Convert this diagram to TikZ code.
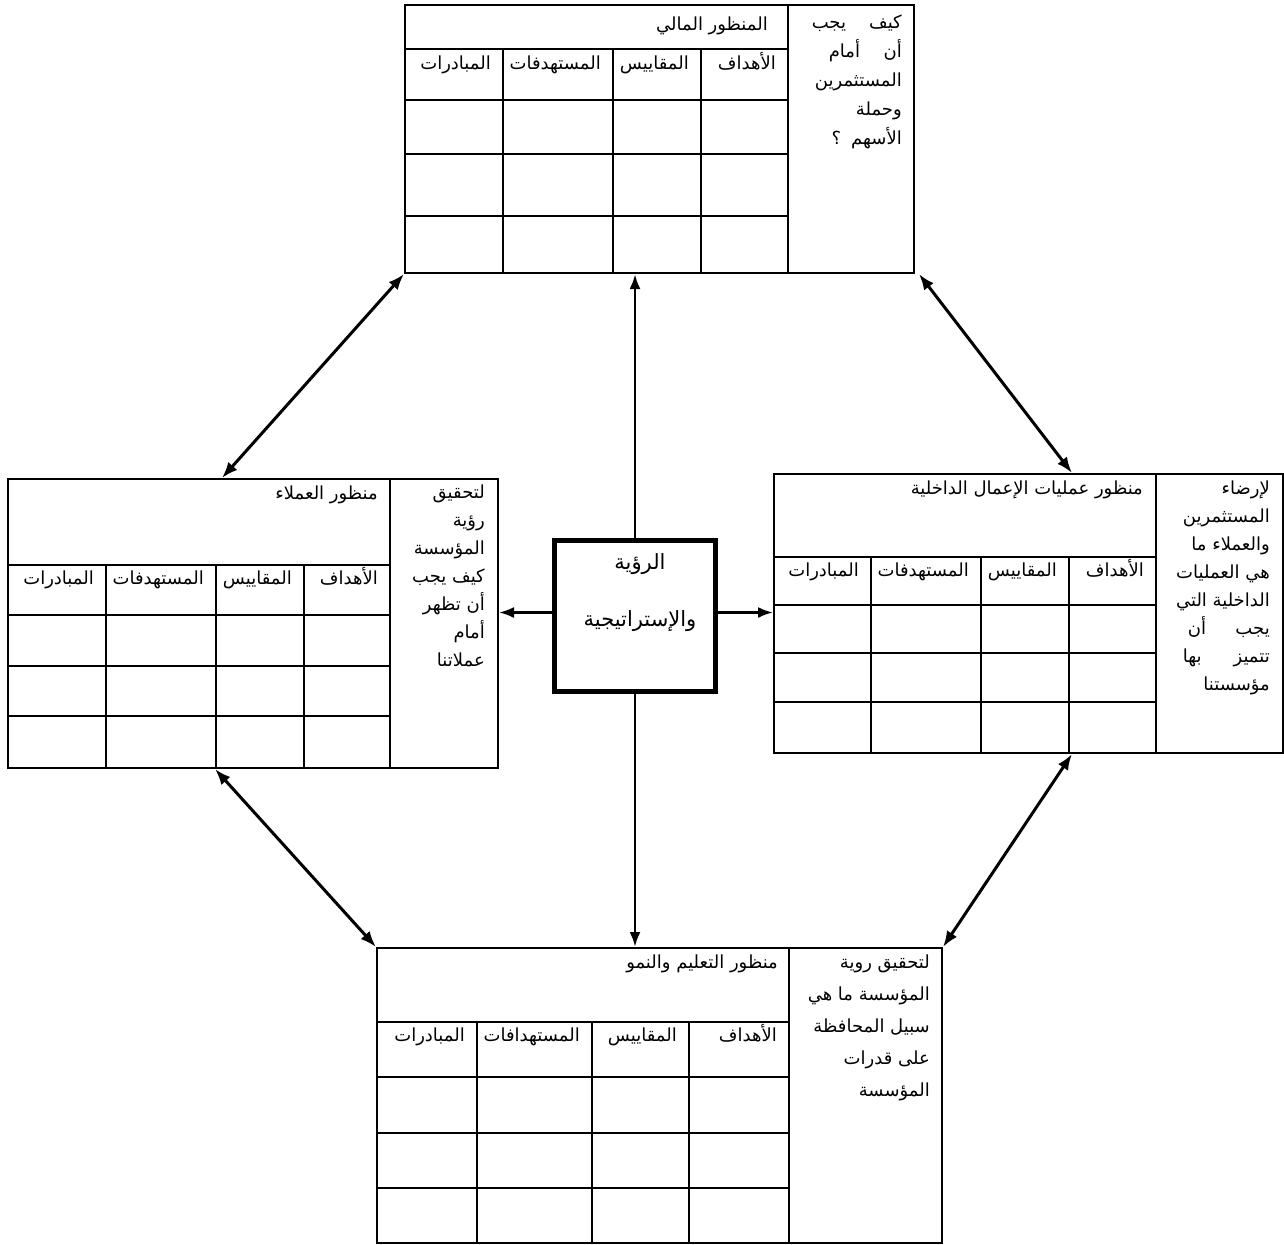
\documentclass[tikz,border=0pt]{standalone}
\usepackage{fontspec}
\newfontfamily\arabicfont[Script=Arabic]{DejaVu Sans}
\TeXXeTstate=1
\usetikzlibrary{arrows.meta,positioning}

\newcommand{\artx}[1]{\strut\beginR#1\endR}
\newcommand{\arfill}[3]{\strut\hbox to #1{\beginR#2\hfill#3\endR}}

\tikzset{
	tablebox/.style={draw, line width=2pt, inner sep=0pt, anchor=north west},
	rules/.style={line width=1.4pt},
	arlabel/.style={inner sep=0pt, anchor=north east, align=right,
		font=\arabicfont\fontsize{18}{28}\selectfont},
	visbox/.style={draw, line width=5pt, minimum width=161pt, minimum height=151pt},
	twoway/.style={{Latex[length=16pt,width=12pt]}-{Latex[length=16pt,width=12pt]}, line width=3pt},
	oneway/.style={-{Latex[length=15pt,width=11pt]}, line width=2.8pt},
}

\begin{document}
\begin{tikzpicture}[x=1pt,y=-1pt]
	\useasboundingbox (0,0) rectangle (1284,1244);

	% the four perspective tables
	\node[tablebox, minimum width=509pt, minimum height=268pt] (fin) at (404,4) {};
	\node[tablebox, minimum width=490pt, minimum height=289pt] (cust) at (7,478) {};
	\node[tablebox, minimum width=509pt, minimum height=279pt] (proc) at (773,473) {};
	\node[tablebox, minimum width=565pt, minimum height=295pt] (learn) at (376,947) {};
	\node[visbox] (vis) at (635,615.5) {};

	\draw[rules]
		(788,4)--(788,272)
		(404,49)--(788,49) (404,100)--(788,100) (404,154)--(788,154) (404,216)--(788,216)
		(503,49)--(503,272) (613,49)--(613,272) (701,49)--(701,272);
	\draw[rules]
		(390,478)--(390,767)
		(7,565)--(390,565) (7,615)--(390,615) (7,666)--(390,666) (7,716)--(390,716)
		(106,565)--(106,767) (216,565)--(216,767) (304,565)--(304,767);
	\draw[rules]
		(1156,473)--(1156,752)
		(773,557)--(1156,557) (773,605)--(1156,605) (773,653)--(1156,653) (773,702)--(1156,702)
		(871,557)--(871,752) (981,557)--(981,752) (1069,557)--(1069,752);
	\draw[rules]
		(789,947)--(789,1242)
		(376,1022)--(789,1022) (376,1077)--(789,1077) (376,1133)--(789,1133) (376,1188)--(789,1188)
		(477,1022)--(477,1242) (592,1022)--(592,1242) (689,1022)--(689,1242);

	% financial
	\node[arlabel] (finT) at (768,10.4) {\artx{المنظور المالي}};
	\node[arlabel] (finH1) at (776,49.4) {\artx{الأهداف}};
	\node[arlabel] (finH2) at (689,49.4) {\artx{المقاييس}};
	\node[arlabel] (finH3) at (601,49.4) {\artx{المستهدفات}};
	\node[arlabel] (finH4) at (491,49.4) {\artx{المبادرات}};
	\node[arlabel, font=\arabicfont\fontsize{18}{29}\selectfont] (finS) at (902,7.7)
		{\arfill{90pt}{كيف}{يجب}\\ \arfill{73pt}{أن}{أمام}\\ \artx{المستثمرين}\\
		 \artx{وحملة}\\ \artx{الأسهم\hspace{10pt}؟}};

	% customers
	\node[arlabel] (custT) at (378,479.4) {\artx{منظور العملاء}};
	\node[arlabel] (custH1) at (378,564.4) {\artx{الأهداف}};
	\node[arlabel] (custH2) at (292,564.4) {\artx{المقاييس}};
	\node[arlabel] (custH3) at (204,564.4) {\artx{المستهدفات}};
	\node[arlabel] (custH4) at (94,564.4) {\artx{المبادرات}};
	\node[arlabel] (custS) at (485,478.4)
		{\artx{لتحقيق}\\ \artx{رؤية}\\ \artx{المؤسسة}\\ \artx{كيف يجب}\\
		 \artx{أن تظهر}\\ \artx{أمام}\\ \artx{عملاتنا}};

	% internal processes
	\node[arlabel] (procT) at (1143,474.4) {\artx{منظور عمليات الإعمال الداخلية}};
	\node[arlabel] (procH1) at (1144,556.4) {\artx{الأهداف}};
	\node[arlabel] (procH2) at (1057,556.4) {\artx{المقاييس}};
	\node[arlabel] (procH3) at (969,556.4) {\artx{المستهدفات}};
	\node[arlabel] (procH4) at (859,556.4) {\artx{المبادرات}};
	\node[arlabel] (procS) at (1270,474.4)
		{\artx{لإرضاء}\\ \artx{المستثمرين}\\ \artx{والعملاء ما}\\ \artx{هي العمليات}\\
		 \artx{الداخلية التي}\\ \arfill{82pt}{يجب}{أن}\\ \arfill{87pt}{تتميز}{بها}\\ \artx{مؤسستنا}};

	% learning and growth
	\node[arlabel] (learnT) at (778,948.4) {\artx{منظور التعليم والنمو}};
	\node[arlabel] (learnH1) at (777,1021.4) {\artx{الأهداف}};
	\node[arlabel] (learnH2) at (677,1021.4) {\artx{المقاييس}};
	\node[arlabel] (learnH3) at (580,1021.4) {\artx{المستهدافات}};
	\node[arlabel] (learnH4) at (465,1021.4) {\artx{المبادرات}};
	\node[arlabel, font=\arabicfont\fontsize{18}{32}\selectfont] (learnS) at (930,945.6)
		{\artx{لتحقيق روية}\\ \artx{المؤسسة ما هي}\\ \artx{سبيل المحافظة}\\
		 \artx{على قدرات}\\ \artx{المؤسسة}};

	% vision and strategy
	\node[inner sep=0pt, anchor=north, align=center,
		font=\arabicfont\fontsize{21}{57}\selectfont] (visT) at (640,529)
		{\artx{الرؤية}\\ \artx{والإستراتيجية}};

	% connectors
	\draw[oneway] (vis.north) -- (vis.north |- fin.south);
	\draw[oneway] (vis.south) -- (vis.south |- learn.north);
	\draw[oneway, line width=2.4pt] ([yshift=3pt]vis.west) -- ([yshift=3pt]vis.west -| cust.east);
	\draw[oneway, line width=2.4pt] ([yshift=3pt]vis.east) -- ([yshift=3pt]vis.east -| proc.west);
	\draw[twoway] (fin.south west) -- ([xshift=215pt]cust.north west);
	\draw[twoway] ([xshift=4pt]fin.south east) -- ([xshift=299pt]proc.north west);
	\draw[twoway] ([xshift=208pt]cust.south west) -- (learn.north west);
	\draw[twoway] ([xshift=299pt]proc.south west) -- (learn.north east);
\end{tikzpicture}
\end{document}
